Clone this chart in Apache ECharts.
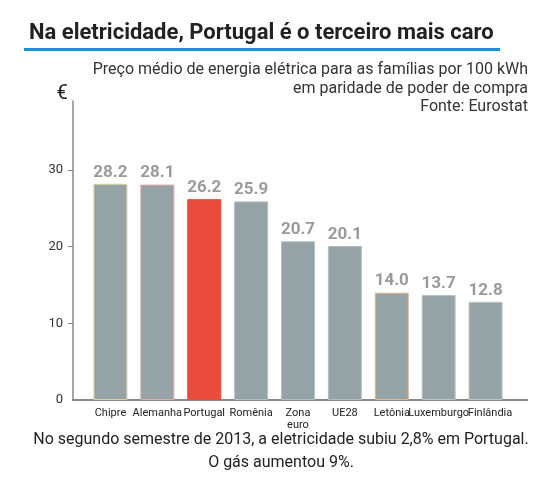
<!DOCTYPE html>
<html>
<head>
<meta charset="utf-8">
<script src="https://cdn.jsdelivr.net/npm/echarts@6/dist/echarts.min.js"></script>
<style>
html,body{margin:0;padding:0;background:#fff;}
#c{width:560px;height:490px;}
</style>
</head>
<body>
<div id="c"></div>
<script>
var categories = ['Chipre', 'Alemanha', 'Portugal', 'Romênia', 'Zona\neuro', 'UE28', 'Letônia', 'Luxemburgo', 'Finlândia'];
var values = [28.2, 28.1, 26.2, 25.9, 20.7, 20.1, 14.0, 13.7, 12.8];
var yTicks = [0, 10, 20, 30];
var titleText = 'Na eletricidade, Portugal é o terceiro mais caro';
var subtitleLines = ['Preço médio de energia elétrica para as famílias por 100 kWh', 'em paridade de poder de compra', 'Fonte: Eurostat'];
var footerLines = ['No segundo semestre de 2013, a eletricidade subiu 2,8% em Portugal.', 'O gás aumentou 9%.'];

var GRAY = '#95a3a6', RED = '#e74c3c';
var borderColors = ['#ddd39a', '#dcaaaa', '#f0c8c0', '#b0c0c0', '#b0c0c0', '#b0c0c0', '#e0b690', '#b8c6c6', '#b8c6c6'];

var chart = echarts.init(document.getElementById('c'), null, {renderer: 'canvas'});
var FONT = 'Roboto, "Noto Sans", sans-serif';

function graphics(y0) {
  var g = [
    {type: 'text', x: 29, y: 22, style: {text: titleText, font: 'bold 22px ' + FONT, fill: '#222'}},
    {type: 'rect', shape: {x: 24, y: 48, width: 476, height: 3}, style: {fill: '#1f91d8'}},
    {type: 'text', x: 528, y: 61, style: {text: subtitleLines.join('\n'), font: '16px ' + FONT, fill: '#333', align: 'right', lineHeight: 18.5}},
    {type: 'text', x: 281, y: 428, style: {text: footerLines.join('\n'), font: '16px ' + FONT, fill: '#222', align: 'center', lineHeight: 23.5}}
  ];
  if (y0 != null) {
    g.push({type: 'line', shape: {x1: 72, y1: y0, x2: 528, y2: y0}, style: {stroke: '#888', lineWidth: 2}});
  }
  return g;
}

chart.setOption({
  animation: false,
  textStyle: {fontFamily: FONT},
  grid: {left: 87, right: 51, top: 101, bottom: 90, containLabel: false},
  xAxis: {
    type: 'category',
    data: categories.map(function (c) {
      return c === 'Finlândia' ? {value: c, textStyle: {padding: [0, 0, 0, 9]}} : c;
    }),
    axisLine: {show: false},
    axisTick: {show: false},
    axisLabel: {color: '#222', fontSize: 11, margin: 7, interval: 0, lineHeight: 12, fontFamily: FONT}
  },
  yAxis: {
    type: 'value',
    min: 0, max: 39, interval: 10,
    offset: 14,
    name: '€',
    nameLocation: 'end',
    nameGap: -3,
    nameTextStyle: {color: '#222', fontSize: 20, align: 'center', padding: [0, 22, 0, 0], fontFamily: FONT},
    axisLine: {show: true, lineStyle: {color: '#888', width: 1.5}},
    axisTick: {show: true, length: 5, lineStyle: {color: '#888'}, customValues: yTicks.slice(1)},
    axisLabel: {color: '#333', fontSize: 13, margin: 10, customValues: yTicks, fontFamily: FONT},
    splitLine: {show: false}
  },
  series: [{
    type: 'bar',
    barWidth: 34,
    data: values.map(function (v, i) {
      return {
        value: v,
        itemStyle: {color: categories[i] === 'Portugal' ? RED : GRAY, borderColor: categories[i] === 'Portugal' ? RED : borderColors[i], borderWidth: 1}
      };
    }),
    label: {
      show: true, position: 'top', distance: 3,
      color: '#9a9a9a', fontSize: 17, fontWeight: 'bold', fontFamily: FONT,
      formatter: function (p) { return p.value.toFixed(1); }
    }
  }],
  graphic: graphics(null)
});

var y0 = chart.convertToPixel({yAxisIndex: 0}, 0);
chart.setOption({graphic: graphics(y0)}, {replaceMerge: ['graphic']});
</script>
</body>
</html>
